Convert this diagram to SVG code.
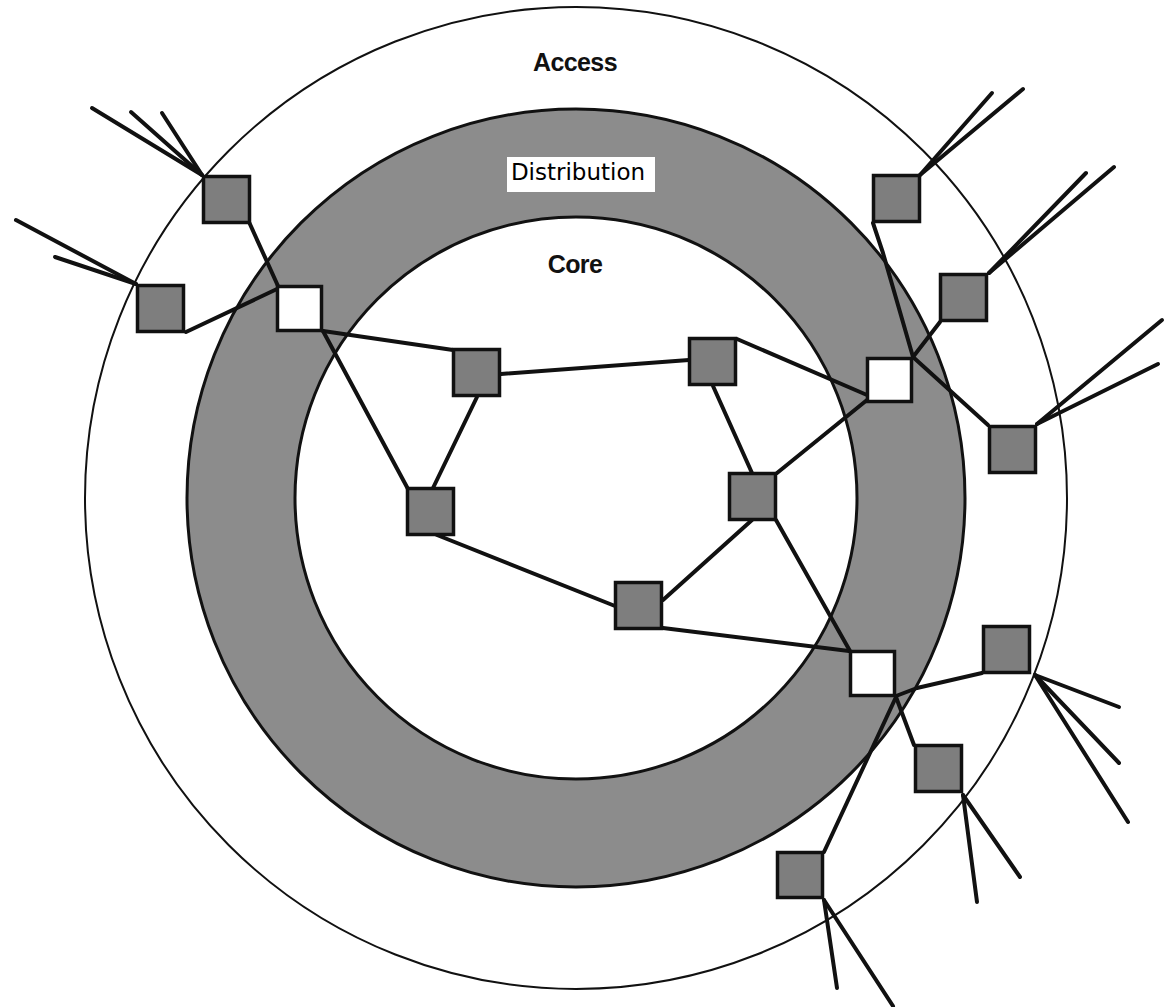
<svg xmlns="http://www.w3.org/2000/svg" width="1165" height="1007" viewBox="0 0 1165 1007">
<style>
.ring{fill:none;stroke:#111;stroke-width:2}
.dist{fill:#8c8c8c;stroke:#111;stroke-width:3}
.core{fill:#fff;stroke:#111;stroke-width:3}
.n rect{fill:#7e7e7e;stroke:#111;stroke-width:3.5}
.w rect{fill:#fff;stroke:#111;stroke-width:3.5}
.c line,.c polyline{stroke:#111;stroke-width:4;fill:none;stroke-linecap:round;stroke-linejoin:round}
.lbl{font-family:"Liberation Sans",Arial,sans-serif;font-weight:bold;font-size:25px;fill:#111;text-anchor:middle}
.dl{font-family:"DejaVu Sans",sans-serif;font-size:23px;fill:#000;text-anchor:middle}
</style>
<rect width="1165" height="1007" fill="#fff"/>
<g id="rings">
<circle class="ring" cx="576" cy="498" r="491"/>
<circle class="dist" cx="576" cy="498" r="389"/>
<circle class="core" cx="576" cy="498" r="281"/>
</g>
<g id="connectors" class="c">
<line x1="249" y1="222" x2="278" y2="286"/>
<line x1="186" y1="332" x2="277" y2="289"/>
<line x1="323" y1="331" x2="453" y2="350"/>
<line x1="323" y1="331" x2="408" y2="489"/>
<line x1="477" y1="397" x2="433" y2="488"/>
<line x1="501" y1="374" x2="689" y2="360"/>
<line x1="713" y1="386" x2="752" y2="473"/>
<line x1="737" y1="339" x2="867" y2="395"/>
<line x1="777" y1="473" x2="867" y2="400"/>
<line x1="437" y1="535" x2="615" y2="606"/>
<line x1="663" y1="600" x2="752" y2="520"/>
<line x1="663" y1="628" x2="849" y2="651"/>
<line x1="776" y1="520" x2="850" y2="651"/>
<polyline points="896,696 917,688 982,673"/>
<line x1="896" y1="697" x2="914" y2="745"/>
<line x1="896" y1="697" x2="824" y2="852"/>
<polyline points="913,357 883,253 873,223"/>
<line x1="913" y1="357" x2="940" y2="322"/>
<line x1="913" y1="357" x2="988" y2="425"/>
<line x1="202" y1="175" x2="92" y2="108"/>
<line x1="202" y1="175" x2="131" y2="112"/>
<line x1="202" y1="175" x2="162" y2="113"/>
<line x1="136" y1="284" x2="16" y2="220"/>
<line x1="136" y1="284" x2="55" y2="257"/>
<line x1="920" y1="175" x2="992" y2="93"/>
<line x1="920" y1="175" x2="1023" y2="89"/>
<line x1="989" y1="273" x2="1086" y2="173"/>
<line x1="989" y1="273" x2="1114" y2="167"/>
<line x1="1037" y1="424" x2="1162" y2="320"/>
<line x1="1037" y1="424" x2="1158" y2="364"/>
<line x1="1035" y1="675" x2="1119" y2="707"/>
<line x1="1035" y1="675" x2="1119" y2="763"/>
<line x1="1035" y1="675" x2="1128" y2="822"/>
<line x1="963" y1="795" x2="977" y2="902"/>
<line x1="963" y1="795" x2="1020" y2="877"/>
<line x1="824" y1="900" x2="837" y2="988"/>
<line x1="824" y1="900" x2="893" y2="1006"/>
</g>
<g id="TL1" class="n"><rect x="203.5" y="176.5" width="46" height="46"/></g>
<g id="TL2" class="n"><rect x="137.5" y="285.5" width="46" height="46"/></g>
<g id="W1" class="w"><rect x="277.5" y="286.5" width="44" height="44"/></g>
<g id="C1" class="n"><rect x="453.5" y="349.5" width="46" height="46"/></g>
<g id="C2" class="n"><rect x="407.5" y="488.5" width="46" height="46"/></g>
<g id="C3" class="n"><rect x="615.5" y="582.5" width="46" height="46"/></g>
<g id="C4" class="n"><rect x="689.5" y="338.5" width="46" height="46"/></g>
<g id="C5" class="n"><rect x="729.5" y="473.5" width="46" height="46"/></g>
<g id="W2" class="w"><rect x="867.5" y="358.5" width="44" height="43"/></g>
<g id="W3" class="w"><rect x="850.5" y="651.5" width="44" height="44"/></g>
<g id="A1" class="n"><rect x="983.5" y="626.5" width="46" height="46"/></g>
<g id="A2" class="n"><rect x="915.5" y="745.5" width="46" height="46"/></g>
<g id="A3" class="n"><rect x="777.5" y="852.5" width="45" height="45"/></g>
<g id="A4" class="n"><rect x="873.5" y="175.5" width="46" height="46"/></g>
<g id="A5" class="n"><rect x="940.5" y="274.5" width="46" height="46"/></g>
<g id="A6" class="n"><rect x="989.5" y="426.5" width="46" height="46"/></g>
<g id="labels">
<text class="lbl" x="575" y="71" letter-spacing="-0.6">Access</text>
<rect x="507" y="157" width="148" height="35" fill="#fff"/>
<text class="dl" x="578" y="180">Distribution</text>
<text class="lbl" x="575" y="273" letter-spacing="-0.6">Core</text>
</g>
</svg>
